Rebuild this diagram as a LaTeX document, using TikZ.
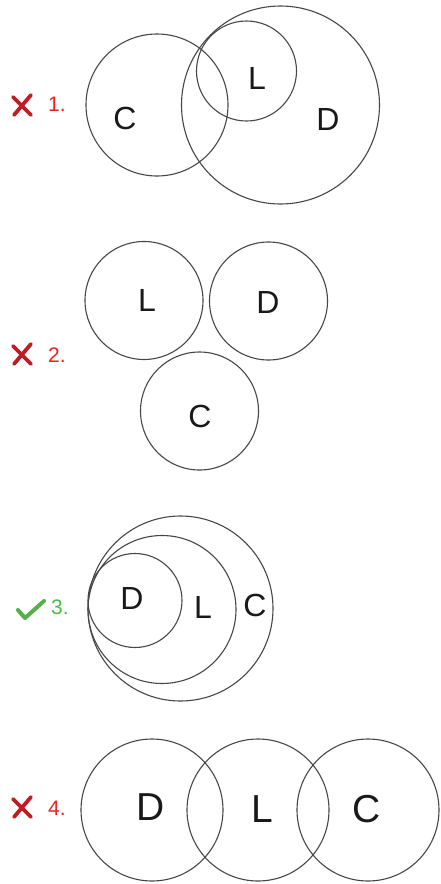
\documentclass[tikz,border=0pt]{standalone}
\usepackage{fontspec}
\setmainfont{Liberation Sans}
\definecolor{xred}{RGB}{190,30,35}
\definecolor{numred}{RGB}{235,35,35}
\definecolor{okgreen}{RGB}{85,175,75}
\definecolor{numgreen}{RGB}{70,190,70}
\begin{document}
\begin{tikzpicture}[x=1pt,y=-1pt,
  ring/.style={draw=black!72,line width=1.1pt},
  lab/.style={font=\fontsize{32}{38}\selectfont,text=black!90,inner sep=0pt},
  labbig/.style={font=\fontsize{39}{46}\selectfont,text=black!90,inner sep=0pt},
  num/.style={font=\fontsize{21}{25}\selectfont,inner sep=0pt,anchor=west},
  wrong/.style={draw=xred,line width=3.8pt,line cap=round},
  right/.style={draw=okgreen,line width=4pt,line cap=round,line join=round}]
\useasboundingbox (0,0) rectangle (440,884);
\fill[white] (0,0) rectangle (440,884);
% ---- 1 ----
\draw[ring] (157,105) circle[radius=71pt];
\draw[ring] (280.5,105) circle[radius=99pt];
\draw[ring] (246.5,71) circle[radius=50pt];
\node[lab] (c1) at (125,118) {C};
\node[lab] (l1) at (257,78) {L};
\node[lab] (d1) at (328,119) {D};
\draw[wrong] (13,97) -- (31,115);
\draw[wrong] (31,95) -- (14,115);
\node[num,text=numred] (n1) at (48,104) {1.};
% ---- 2 ----
\draw[ring] (144,300.5) circle[radius=59pt];
\draw[ring] (268.5,301) circle[radius=59pt];
\draw[ring] (199.5,411) circle[radius=59pt];
\node[lab] (l2) at (147,300) {L};
\node[lab] (d2) at (268,302) {D};
\node[lab] (c2) at (200,416) {C};
\draw[wrong] (13,346) -- (31,364);
\draw[wrong] (31,344) -- (14,364);
\node[num,text=numred] (n2) at (48,355) {2.};
% ---- 3 ----
\draw[ring] (180.5,608.5) circle[radius=92.5pt];
\draw[ring] (162,609.5) circle[radius=74pt];
\draw[ring] (135,600.5) circle[radius=47pt];
\node[lab] (d3) at (132,598) {D};
\node[lab] (l3) at (203,607) {L};
\node[lab] (c3) at (255,605.5) {C};
\draw[right] (18,610) -- (25,618) -- (44,601);
\node[num,text=numgreen] (n3) at (51,607) {3.};
% ---- 4 ----
\draw[ring] (152,810) circle[radius=71pt];
\draw[ring] (258,810) circle[radius=71pt];
\draw[ring] (368,810) circle[radius=71pt];
\node[labbig] (d4) at (150.5,807.5) {D};
\node[labbig] (l4) at (262,809) {L};
\node[labbig] (c4) at (367,809) {C};
\draw[wrong] (13,799) -- (31,817);
\draw[wrong] (31,797) -- (14,817);
\node[num,text=numred] (n4) at (48,808) {4.};
\end{tikzpicture}
\end{document}
